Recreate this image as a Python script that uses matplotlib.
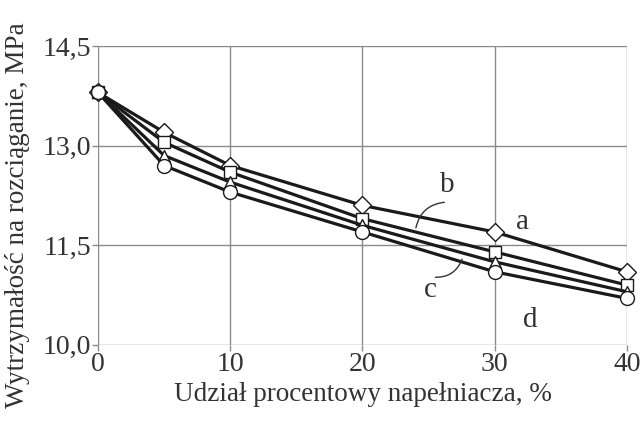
import matplotlib.pyplot as plt

# Dane
udzial = [0, 5, 10, 20, 30, 40]
a = [13.8, 13.2, 12.7, 12.1, 11.7, 11.1]
b = [13.8, 13.05, 12.6, 11.9, 11.4, 10.9]
c = [13.8, 12.85, 12.45, 11.8, 11.25, 10.8]
d = [13.8, 12.7, 12.3, 11.7, 11.1, 10.7]

xticks = [0, 10, 20, 30, 40]
yticks = [10.0, 11.5, 13.0, 14.5]
yticklabels = ['10,0', '11,5', '13,0', '14,5']

plt.rcParams['font.family'] = 'Liberation Serif'
tc = '#333333'

fig = plt.figure(figsize=(6.41, 4.30), dpi=100)
ax = fig.add_axes([0.153, 0.198, 0.825, 0.695])

for seria, m, ms in [(a, 'D', 9), (b, 's', 9), (c, '^', 9), (d, 'o', 10)]:
    ax.plot(udzial, seria, color='#1a1a1a', lw=2.3, marker=m, ms=ms,
            mfc='white', mec='#1a1a1a', mew=1.0, zorder=3, clip_on=False)

ax.set_xlim(0, 40)
ax.set_ylim(10.0, 14.5)
ax.set_xticks(xticks)
ax.set_yticks(yticks)
ax.set_yticklabels(yticklabels)
ax.grid(True, color='#8a8a8a', lw=1.0)
for s in ax.spines.values():
    s.set_visible(False)
ax.tick_params(axis='both', colors='#8a8a8a', labelcolor=tc, labelsize=20, length=4, width=1, pad=1)

ax.set_xlabel('Udział procentowy napełniacza, %', fontsize=19.5, color=tc, labelpad=4)
ax.set_ylabel('Wytrzymałość na rozciąganie, MPa', fontsize=19.5, color=tc)
ax.yaxis.set_label_coords(-0.128, 0.435)

# Oznaczenia krzywych
ax.text(32.1, 11.85, 'a', fontsize=21, color=tc, ha='center', va='center')
ax.text(26.4, 12.4, 'b', fontsize=21, color=tc, ha='center', va='center')
ax.text(25.1, 10.83, 'c', fontsize=21, color=tc, ha='center', va='center')
ax.text(32.7, 10.38, 'd', fontsize=21, color=tc, ha='center', va='center')
ax.annotate('', xy=(24.0, 11.72), xytext=(26.4, 12.15),
            arrowprops=dict(arrowstyle='-', color=tc, lw=1, connectionstyle='arc3,rad=0.4'))
ax.annotate('', xy=(27.6, 11.33), xytext=(25.3, 11.02),
            arrowprops=dict(arrowstyle='-', color=tc, lw=1, connectionstyle='arc3,rad=0.4'))

fig.savefig('out.png', dpi=100)
